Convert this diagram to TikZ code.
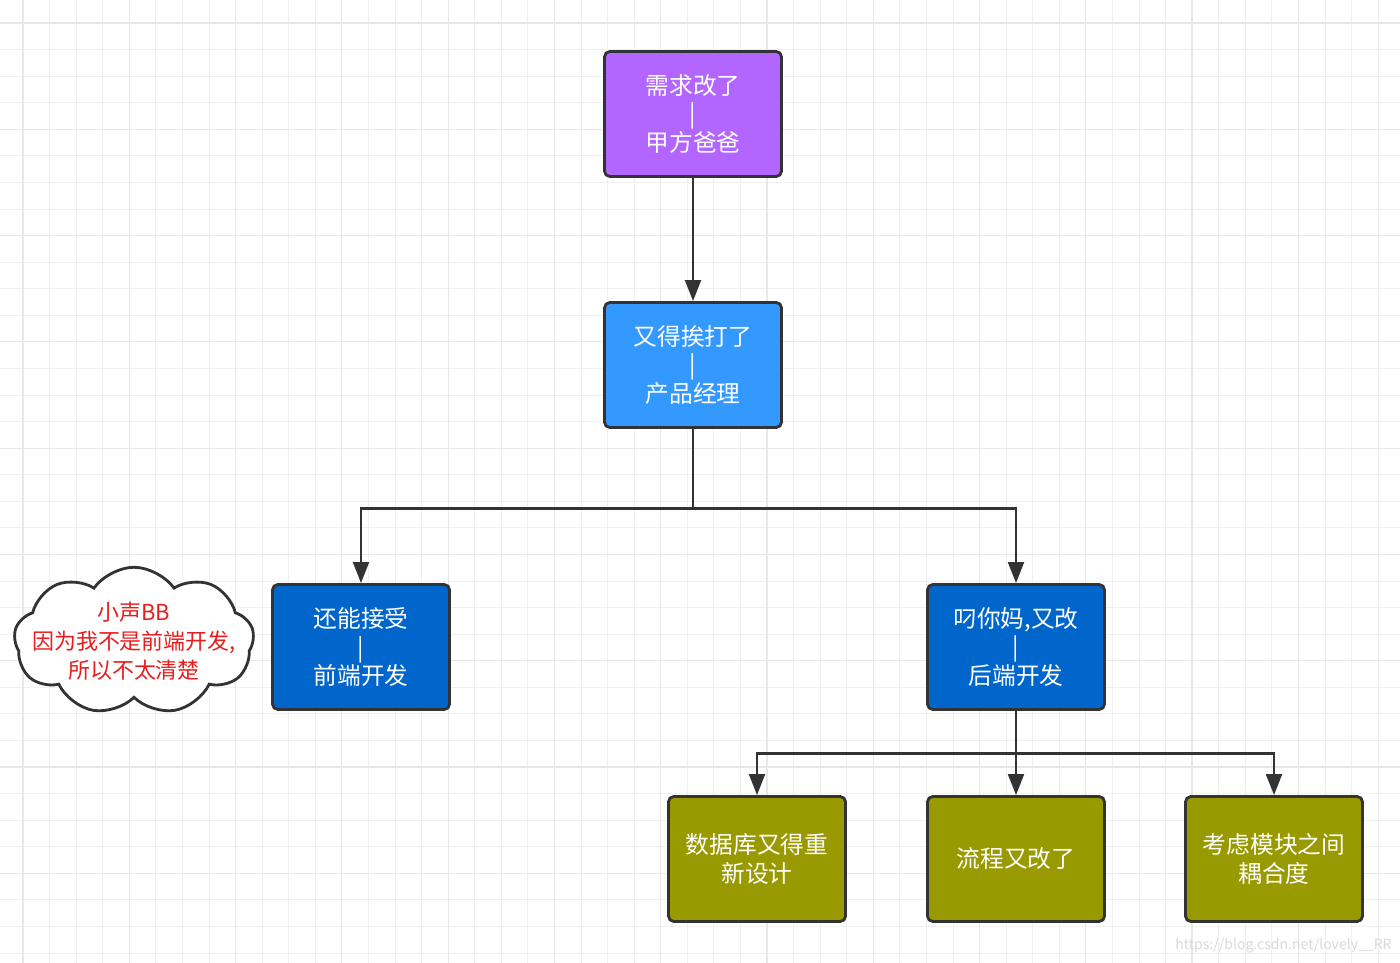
\documentclass[tikz,border=0pt]{standalone}
\usepackage{fontspec}
\setmainfont{Noto Sans CJK SC}
\usetikzlibrary{shapes.symbols, arrows.meta}
\definecolor{edgegray}{HTML}{333333}
\definecolor{bosspurple}{HTML}{B266FF}
\definecolor{pmblue}{HTML}{3399FF}
\definecolor{devblue}{HTML}{0066CC}
\definecolor{taskolive}{HTML}{999900}
\definecolor{murmurred}{HTML}{E81E1E}
\tikzstyle{gridminor} = [draw=black!6, line width=0.5pt]
\tikzstyle{gridmajor} = [draw=black!9, line width=0.7pt]
\tikzstyle{level} = [
    rectangle,
    rounded corners=3pt,
    minimum width=3.54cm,
    minimum height=2.5cm,
    draw=edgegray,
    line width=1.6pt,
    text=white,
    align=center,
    font=\fontsize{13.5}{16}\selectfont
]
\tikzstyle{boss} = [level, fill=bosspurple]
\tikzstyle{pm} = [level, fill=pmblue]
\tikzstyle{dev} = [level, fill=devblue]
\tikzstyle{task} = [level, fill=taskolive, font=\fontsize{13.5}{16.5}\selectfont]
\tikzstyle{whisper} = [
    cloud,
    cloud puffs=9,
    cloud puff arc=110,
    minimum width=4.8cm,
    minimum height=2.95cm,
    draw=edgegray,
    fill=white,
    line width=1.6pt
]
\tikzstyle{murmur} = [
    text=murmurred,
    align=center,
    font=\fontsize{12.5}{16.5}\selectfont
]
\tikzstyle{arrow} = [line width=1.6pt, draw=edgegray, -{Triangle[length=12pt,width=9pt]}]

\begin{document}
\begin{tikzpicture}[x=0.02cm, y=-0.02cm]

\useasboundingbox[fill=white] (0,0) rectangle (1400,963);

% background grid
\foreach \k in {0,...,51} {
    \draw[gridminor] ({23+26.57*\k},0) -- ({23+26.57*\k},963);
}
\foreach \k in {0,...,35} {
    \draw[gridminor] (0,{23+26.57*\k}) -- (1400,{23+26.57*\k});
}
\foreach \k in {0,4,...,48} {
    \draw[gridmajor] ({23+26.57*\k},0) -- ({23+26.57*\k},963);
}
\foreach \k in {0,4,...,32} {
    \draw[gridmajor] (0,{23+26.57*\k}) -- (1400,{23+26.57*\k});
}

\node (client) [boss] at (693,114) {需求改了\\|\\甲方爸爸};

\node (manager) [pm] at (693,365) {又得挨打了\\|\\产品经理};

\node (front) [dev] at (361,647) {还能接受\\|\\前端开发};

\node (back) [dev] at (1016,647) {叼你妈,又改\\|\\后端开发};

\node (database) [task] at (757,859) {数据库又得重\\新设计};

\node (flow) [task] at (1016,859) {流程又改了};

\node (coupling) [task] at (1274,859) {考虑模块之间\\耦合度};

\node (bb) [whisper, label={[murmur]center:{小声BB\\因为我不是前端开发,\\所以不太清楚}}] at (134,641) {};

\node (mark) [anchor=east, inner sep=0pt, text=black!15, font=\fontsize{8}{10}\selectfont] at (1392,946) {https://blog.csdn.net/lovely\_\_RR};

\draw [arrow] (client) -- (manager);
\draw [arrow] (manager.south) -- ++(0,80) -| (front.north);
\draw [arrow] (manager.south) -- ++(0,80) -| (back.north);
\draw [arrow] (back.south) -- ++(0,43) -| (database.north);
\draw [arrow] (back) -- (flow);
\draw [arrow] (back.south) -- ++(0,43) -| (coupling.north);

\end{tikzpicture}
\end{document}
